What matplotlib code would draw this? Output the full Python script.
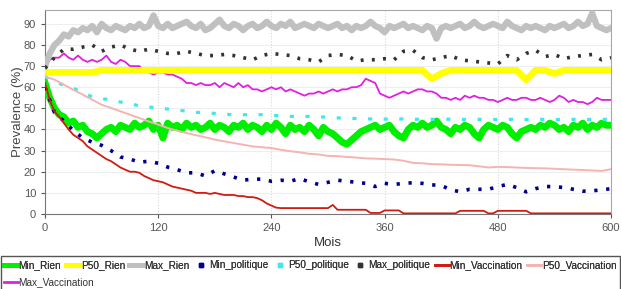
import matplotlib
matplotlib.use("Agg")
import matplotlib.pyplot as plt
from matplotlib.lines import Line2D
from matplotlib.patches import Rectangle

# months (x) for the noisy series, every 5 months
t5 = list(range(0, 601, 5))
# months for the smoother series, every 10 months
t10 = list(range(0, 601, 10))

min_rien = [
    62, 55, 50, 47, 46, 43, 44, 41, 42, 39,
    38, 36, 38, 40, 41, 39, 42, 41, 40, 43,
    41, 42, 44, 40, 42, 36, 43, 41, 42, 40,
    43, 41, 42, 40, 41, 43, 40, 42, 41, 39,
    42, 41, 43, 40, 42, 41, 39, 42, 40, 43,
    41, 38, 42, 40, 41, 39, 42, 40, 37, 41,
    39, 38, 36, 34, 33, 35, 37, 39, 40, 41,
    42, 40, 41, 42, 39, 37, 36, 40, 42, 41,
    43, 41, 42, 44, 41, 40, 38, 41, 40, 42,
    41, 38, 36, 40, 42, 41, 40, 42, 41, 38,
    36, 39, 40, 41, 40, 42, 41, 43, 42, 40,
    41, 39, 42, 41, 43, 40, 42, 41, 43, 42,
    42,
]
max_rien = [
    70, 76, 80, 82, 85, 84, 87, 86, 88, 87,
    89, 86, 90, 88, 87, 89, 88, 87, 89, 88,
    90, 88, 89, 94, 89, 88, 90, 88, 89, 90,
    91, 89, 88, 90, 87, 88, 90, 92, 89, 88,
    90, 89, 87, 89, 90, 88, 89, 91, 89, 88,
    90, 89, 91, 88, 89, 90, 89, 88, 90, 89,
    88, 89, 90, 88, 89, 87, 89, 88, 89, 91,
    89, 88, 86, 89, 88, 89, 90, 88, 89, 88,
    87, 89, 88, 83, 88, 89, 88, 89, 90, 88,
    89, 91, 89, 88, 89, 90, 89, 88, 91, 89,
    88, 87, 89, 88, 89, 88, 87, 89, 88, 89,
    90, 88, 89, 91, 89, 90, 95, 89, 88, 87,
    88,
]
p50_rien = [
    67, 67, 67, 67, 67, 67, 68, 68, 68, 68,
    68, 68, 68, 68, 68, 68, 68, 68, 68, 68,
    68, 68, 68, 68, 68, 68, 68, 68, 68, 68,
    68, 68, 68, 68, 68, 68, 68, 68, 68, 68,
    68, 64, 66.5, 68, 68, 68, 68, 68, 68, 68,
    68, 63.5, 68, 68, 66.5, 68, 68, 68, 68, 68,
    68,
]
min_politique = [
    60, 48, 44, 39.5, 36, 34, 32.5, 30, 27, 26,
    24.5, 25, 24, 22.2, 21, 19.5, 19.5, 18, 20.5, 19,
    17.5, 16, 16.5, 16.5, 15.5, 16, 15.5, 16.8, 15.2, 14,
    15, 16, 15.5, 15, 14.5, 13, 14.5, 14, 14.5, 14.8,
    14.5, 13.8, 13.5, 11.5, 10.5, 11.7, 11.7, 11.7, 13, 14,
    12.5, 10.5, 12, 13, 13, 12.5, 11.7, 10.8, 11, 11.4,
    12,
]
p50_politique = [
    65, 62.5, 61, 59.6, 57.3, 55.5, 54.6, 54, 53, 52.2,
    51.2, 50.6, 50.2, 49.7, 49.2, 48.7, 48.1, 47.9, 47.6, 47.2,
    47, 47, 47, 47, 46.8, 46.4, 46.2, 46.2, 46.2, 46,
    45.8, 45.5, 45.3, 45.2, 45, 45, 44.9, 44.9, 45, 44.8,
    44.9, 44.8, 44.8, 44.9, 44.8, 44.7, 44.8, 44.8, 44.7, 44.8,
    44.8, 44.7, 44.8, 44.8, 44.7, 44.8, 44.8, 44.7, 44.8, 44.8,
    44.8,
]
max_politique = [
    69, 74, 78, 78, 79, 80, 77, 79, 80, 78,
    77, 78, 77, 76, 76, 77, 76, 75, 75, 75.5,
    75, 74, 73, 75, 76, 75.5, 75, 73.5, 73, 72,
    75, 75.5, 75, 72.5, 73, 73, 73.5, 73, 77, 77.5,
    74, 73, 74, 75, 73, 72.5, 72, 71.5, 71, 75,
    73, 76, 77.5, 74.5, 75.5, 73.5, 74.5, 75, 75.5, 73,
    74,
]
min_vaccination = [
    62, 54, 48.5, 46, 43, 40, 37.5, 36, 34.5, 32,
    30.5, 29, 27.5, 26, 25, 23.5, 22, 21, 20, 20,
    19.5, 18, 17, 16, 15.5, 15, 14, 13, 12.5, 12,
    11.5, 11, 10, 10, 10, 9.5, 10, 9.5, 9, 9,
    9, 8.5, 8.5, 8, 8, 7.5, 6.5, 5, 4, 3,
    2.8, 2.8, 2.8, 2.8, 2.8, 2.8, 2.8, 2.8, 2.8, 2.8,
    2.8, 4.3, 2, 2, 2, 2, 2, 2, 2, 0.5,
    0.5, 0.5, 1.7, 1.7, 1.7, 1.7, 0.3, 0.3, 0.3, 0.3,
    0.3, 0.3, 0.3, 0.3, 0.3, 0.3, 0.3, 0.3, 1.5, 1.5,
    1.5, 1.5, 1.5, 1.5, 0.3, 0.3, 1.5, 1.5, 1.5, 1.5,
    1.5, 1.5, 1.5, 0.3, 0.3, 0.3, 0.3, 0.3, 0.3, 0.3,
    0.3, 0.3, 0.3, 0.3, 0.3, 0.3, 0.3, 0.3, 0.3, 0.3,
    0.3,
]
p50_vaccination = [
    65, 63.6, 61.2, 58.8, 56.5, 54.1, 51.7, 50.2, 48.6, 47,
    45.4, 43.8, 42.3, 40.7, 39.4, 38.3, 37.3, 36.3, 35.2, 34.4,
    33.6, 32.8, 32, 31.6, 31.2, 30.4, 29.7, 29.2, 28.5, 28.2,
    27.5, 27.4, 27, 26.7, 26.3, 26.2, 26, 25.8, 25.2, 24.2,
    24, 23.6, 23.5, 23.3, 23.2, 23.1, 22.6, 22, 22.3, 22.2,
    22, 21.8, 21.7, 21.6, 21.4, 21.2, 21, 20.8, 20.6, 20.4,
    21.2,
]
max_vaccination = [
    70, 73, 74, 74, 76, 74, 73, 75, 73, 72,
    73, 72, 73, 75, 72, 71, 73, 72, 70, 70,
    70, 68, 67, 66, 67, 67, 66, 66, 65, 64,
    62, 62, 61, 62, 61, 61, 62, 60, 62, 61,
    60, 62, 60, 61, 59, 59, 58, 59, 60, 59,
    60, 58, 59, 58, 57, 56, 57, 57, 58, 57,
    58, 59, 58, 59, 59, 60, 60, 61, 64, 63,
    62, 57, 56, 55, 56, 57, 58, 57, 58, 59,
    59, 58, 58, 57, 55, 55, 54, 55, 54, 56,
    55, 56, 55, 55, 54, 54, 53, 54, 55, 54,
    54, 55, 55, 54, 54, 55, 54, 53, 54, 56,
    55, 53, 54, 53, 53, 52, 53, 55, 54, 54,
    54,
]

x_ticks = [0, 120, 240, 360, 480, 600]
y_ticks = list(range(0, 91, 10))

plt.rcParams["font.family"] = ["Liberation Sans", "DejaVu Sans"]

fig = plt.figure(figsize=(6.21, 2.89), dpi=100)
ax = fig.add_axes([0.0725, 0.2595, 0.9115, 0.7055])

ax.plot(t5, min_rien, color="#00ee00", lw=5.0, label="Min_Rien", zorder=3)
ax.plot(t10, p50_rien, color="#ffff00", lw=4.8, label="P50_Rien", zorder=3)
ax.plot(t5, max_rien, color="#c0c0c0", lw=4.5, label="Max_Rien", zorder=3)
ax.plot(t10, min_politique, color="#000090", lw=2.6, dashes=(0.9, 2.4),
        dash_capstyle="butt", label="Min_politique", zorder=4)
ax.plot(t10, p50_politique, color="#40e8e8", lw=2.3, dashes=(1.3, 3.6),
        dash_capstyle="butt", label="P50_politique", zorder=4)
ax.plot(t10, max_politique, color="#333333", lw=2.6, dashes=(0.8, 2.3),
        dash_capstyle="butt", label="Max_politique", zorder=4)
ax.plot(t5, min_vaccination, color="#d01c10", lw=1.3, label="Min_Vaccination", zorder=5)
ax.plot(t10, p50_vaccination, color="#f4b4b4", lw=1.4, label="P50_Vaccination", zorder=5)
ax.plot(t5, max_vaccination, color="#e020e0", lw=1.3, label="Max_Vaccination", zorder=2)

ax.set_xlim(0, 600)
ax.set_ylim(0, 96.5)
ax.set_xticks(x_ticks)
ax.set_yticks(y_ticks)
ax.tick_params(colors="#555555", labelsize=8, length=3, width=0.8)
ax.grid(True, axis="x", color="#d8d8d8", lw=0.8, ls=(0, (1, 1.5)))
ax.grid(True, axis="y", color="#eeeeee", lw=0.8)
ax.set_axisbelow(True)
for side in ("top", "right"):
    ax.spines[side].set_color("#a8a8a8")
for side in ("left", "bottom"):
    ax.spines[side].set_color("#777777")
ax.set_ylabel("Prevalence (%)", fontsize=9.5, color="#444444")
ax.yaxis.set_label_coords(-0.037, 0.5)
ax.set_xlabel("Mois", fontsize=9.5, color="#333333", labelpad=3)

# legend frame spanning the full width, bottom edge cut by the figure
fig.patches.append(Rectangle((1 / 621, -0.05), 619 / 621, 0.05 + 1 - 256 / 289,
                             transform=fig.transFigure, fill=False,
                             edgecolor="#555555", lw=1.0))

handles = [
    Line2D([], [], color="#00ee00", lw=3.5),
    Line2D([], [], color="#ffff00", lw=3.5),
    Line2D([], [], color="#c0c0c0", lw=3.5),
    Line2D([], [], color="#000090", ls="none", marker="s", ms=2.5),
    Line2D([], [], color="#40e8e8", ls="none", marker="s", ms=2.5),
    Line2D([], [], color="#333333", ls="none", marker="s", ms=2.5),
    Line2D([], [], color="#d01c10", lw=2),
    Line2D([], [], color="#f4b4b4", lw=2),
]
labels = ["Min_Rien", "P50_Rien", "Max_Rien", "Min_politique", "P50_politique",
          "Max_politique", "Min_Vaccination", "P50_Vaccination"]
leg_kw = dict(fontsize=7.2, handlelength=1.4, handletextpad=0.1,
              columnspacing=0.45, borderaxespad=0.0, frameon=False,
              borderpad=0.25, loc="upper left")

# first row: eight entries
leg1 = fig.legend(handles, labels, ncol=8,
                  bbox_to_anchor=(1 / 621, 1 - 258 / 289), **leg_kw)
# second row: the last entry
leg2 = fig.legend([Line2D([], [], color="#e020e0", lw=2)], ["Max_Vaccination"],
                  ncol=1, bbox_to_anchor=(1 / 621, 1 - 275 / 289), **leg_kw)
fig.add_artist(leg1)
for leg in (leg1, leg2):
    for txt in leg.get_texts():
        txt.set_color("#333333")

fig.savefig("out.png", dpi=100)
